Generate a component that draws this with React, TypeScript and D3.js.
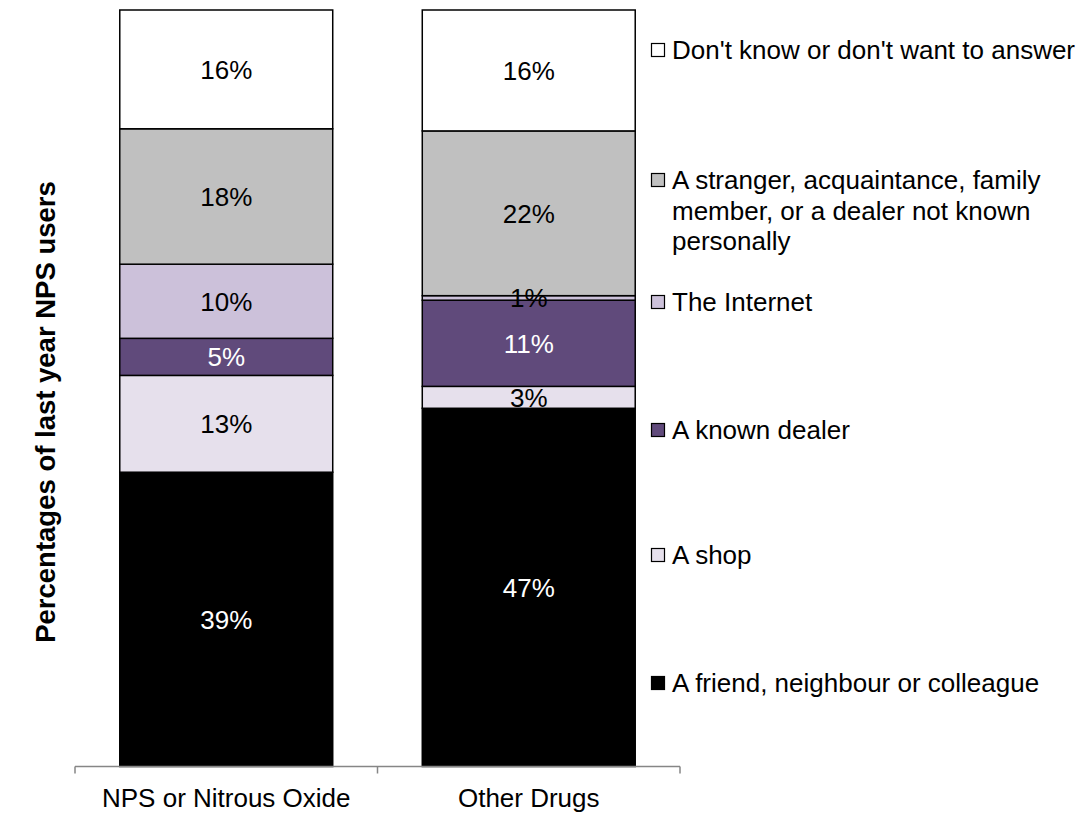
import React from "react";
import * as d3 from "d3";

const categories = ["NPS or Nitrous Oxide", "Other Drugs"];
const seriesNames = [
  "A friend, neighbour or colleague",
  "A shop",
  "A known dealer",
  "The Internet",
  "A stranger, acquaintance, family member, or a dealer not known personally",
  "Don't know or don't want to answer",
];
// Estimated (unrounded) percentages; labels show them rounded
const friendValues = [38.9, 47.4];
const shopValues = [12.8, 2.9];
const knownDealerValues = [4.9, 11.4];
const internetValues = [9.8, 0.6];
const strangerValues = [17.9, 21.8];
const dontKnowValues = [15.7, 16.0];

const seriesColors = ["#000000", "#E6E0EC", "#604A7B", "#CCC1DA", "#C0C0C0", "#FFFFFF"];
const labelColors = ["#FFFFFF", "#000000", "#FFFFFF", "#000000", "#000000", "#000000"];
const legendLines = [
  ["A friend, neighbour or colleague"],
  ["A shop"],
  ["A known dealer"],
  ["The Internet"],
  ["A stranger, acquaintance, family", "member, or a dealer not known", "personally"],
  ["Don't know or don't want to answer"],
];
const legendRowY = [683, 555, 430, 302, 180, 50];

const W = 1088;
const H = 814;
const FONT = "'Liberation Sans', Arial, sans-serif";
const FS = 26;
const fmt = d3.format(".0%");

export default function App() {
  const seriesValues = [friendValues, shopValues, knownDealerValues, internetValues, strangerValues, dontKnowValues];
  const keys = seriesNames.map((_, i) => "s" + i);
  const table = categories.map((c, ci) => {
    const row: any = { category: c };
    keys.forEach((k, si) => (row[k] = seriesValues[si][ci]));
    return row;
  });
  const stack = d3.stack().keys(keys).offset(d3.stackOffsetExpand);
  const layers = stack(table);

  const x = d3.scaleBand().domain(categories).range([75, 680]).paddingInner(0.296).paddingOuter(0.148);
  const y = d3.scaleLinear().domain([0, 1]).range([766.5, 10]);
  const axisY = 766.5;

  return (
    <svg width={W} height={H} style={{ position: "absolute", left: 0, top: 0, background: "#fff" }} fontFamily={FONT}>
      <rect x={0} y={0} width={W} height={H} fill="#fff" />
      {layers.map((layer, si) =>
        layer.map((d, ci) => {
          const cat = categories[ci];
          const x0 = x(cat)!;
          const y0 = y(d[1]);
          const y1 = y(d[0]);
          return (
            <rect key={`r${si}-${ci}`} x={x0} y={y0} width={x.bandwidth()} height={y1 - y0}
              fill={seriesColors[si]} stroke="#000" strokeWidth={1.5} />
          );
        })
      )}
      {layers.map((layer, si) =>
        layer.map((d, ci) => {
          const cat = categories[ci];
          const cx = x(cat)! + x.bandwidth() / 2;
          const cy = (y(d[1]) + y(d[0])) / 2;
          return (
            <text key={`t${si}-${ci}`} x={cx} y={cy} dy="0.36em" textAnchor="middle" fontSize={FS}
              fill={labelColors[si]}>
              {fmt(seriesValues[si][ci] / 100)}
            </text>
          );
        })
      )}
      {/* x axis */}
      <line x1={75} x2={680} y1={axisY} y2={axisY} stroke="#868686" strokeWidth={1.5} />
      {[75, ...categories.map((c) => x(c)! + x.bandwidth() / 2 + x.step() / 2)].map((tx, i) => (
        <line key={`tk${i}`} x1={tx} x2={tx} y1={axisY} y2={axisY + 7} stroke="#868686" strokeWidth={1.5} />
      ))}
      {categories.map((c) => (
        <text key={c} x={x(c)! + x.bandwidth() / 2} y={807} textAnchor="middle" fontSize={FS} fill="#000">
          {c}
        </text>
      ))}
      {/* y axis title */}
      <text transform={`translate(55,412) rotate(-90)`} textAnchor="middle" fontSize={27.5} fontWeight="bold" fill="#000">
        Percentages of last year NPS users
      </text>
      {/* legend */}
      {legendLines.map((lines, si) => (
        <g key={`lg${si}`}>
          <rect x={651.5} y={legendRowY[si] - 6.5} width={13} height={13} fill={seriesColors[si]} stroke="#000" strokeWidth={1.2} />
          {lines.map((ln, li) => (
            <text key={li} x={672} y={legendRowY[si] + li * 30.5} dy="0.36em" fontSize={FS} fill="#000">
              {ln}
            </text>
          ))}
        </g>
      ))}
    </svg>
  );
}
